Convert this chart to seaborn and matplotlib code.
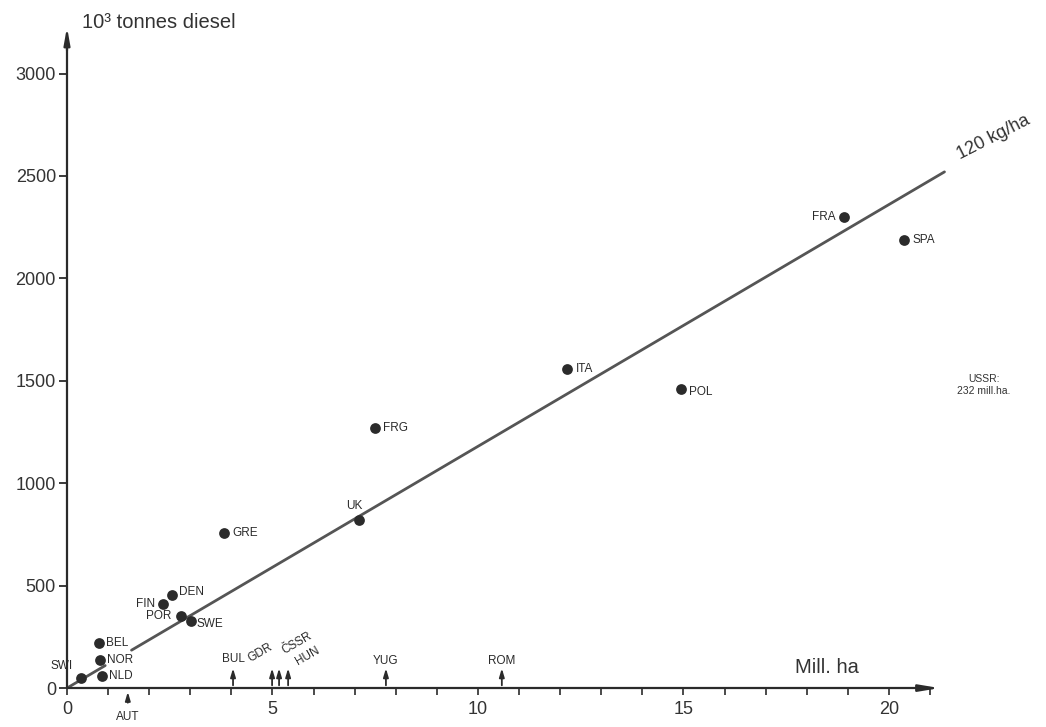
import matplotlib
matplotlib.use("Agg")
import matplotlib.pyplot as plt
import seaborn as sns
import pandas as pd

# ---- data ----
countries = ["FRA", "SPA", "ITA", "POL", "FRG", "UK", "GRE", "DEN", "FIN",
             "POR", "SWE", "BEL", "NOR", "NLD", "SWI"]
area_mha = [18.9, 20.36, 12.17, 14.94, 7.49, 7.10, 3.82, 2.55, 2.34,
            2.77, 3.02, 0.78, 0.80, 0.85, 0.34]
diesel_kt = [2300, 2188, 1558, 1460, 1270, 820, 757, 454, 410,
             352, 327, 220, 137, 59, 49]

# countries with area only (arrows on x axis)
arrow_countries = ["BUL", "GDR", "ČSSR", "HUN", "YUG", "ROM"]
arrow_area = [4.04, 4.99, 5.16, 5.38, 7.76, 10.58]
aut_area = 1.48

# 120 kg/ha reference line (two pieces)
line1_x = [0, 0.93]
line1_y = [0, 110]
line2_x = [1.57, 21.35]
line2_y = [185, 2520]

y_ticks = [0, 500, 1000, 1500, 2000, 2500, 3000]
x_major = [0, 5, 10, 15, 20]
x_minor = list(range(0, 22))

sns.set_style("white")
plt.rcParams["font.family"] = ["Liberation Sans", "DejaVu Sans"]

INK = "#2b2b2b"
fig = plt.figure(figsize=(10.46, 7.27), dpi=100)
ax = fig.add_axes([0, 0, 1, 1])

df = pd.DataFrame({"country": countries, "area": area_mha, "diesel": diesel_kt})

ax.plot(line1_x, line1_y, color="#555555", lw=2.0, solid_capstyle="round")
ax.plot(line2_x, line2_y, color="#555555", lw=2.0, solid_capstyle="round")

sns.scatterplot(data=df, x="area", y="diesel", ax=ax, s=60, color=INK,
                edgecolor=INK, linewidth=0, zorder=5, legend=False)
ax.set_xlabel("")
ax.set_ylabel("")
ax.set_xlim(-1.63, 23.82)
ax.set_ylim(-190, 3359)

# label offsets (points)
offsets = {
    "FRA": (-6, 0, "right"), "SPA": (6, 0, "left"), "ITA": (6, 0, "left"),
    "POL": (6, -2, "left"), "FRG": (6, 0, "left"), "GRE": (6, 0, "left"),
    "DEN": (5, 2, "left"), "FIN": (-6, 0, "right"), "POR": (-7, 0, "right"),
    "SWE": (4, -2, "left"), "BEL": (5, 0, "left"), "NOR": (5, 0, "left"),
    "NLD": (5, 0, "left"), "SWI": (-6, 9, "right"), "UK": (-3, 10, "center"),
}
for c, xv, yv in zip(countries, area_mha, diesel_kt):
    dx, dy, ha = offsets[c]
    ax.annotate(c, (xv, yv), xytext=(dx, dy), textcoords="offset points",
                ha=ha, va="center", fontsize=8.5, color=INK)

# axes (spines drawn as lines with arrows)
for s in ax.spines.values():
    s.set_visible(False)
ax.plot([0, 0], [0, 3150], color=INK, lw=1.6)
ax.plot([0, 21.0], [0, 0], color=INK, lw=1.6)
ax.annotate("", xy=(0, 3240), xytext=(0, 3100),
            arrowprops=dict(arrowstyle="-|>,head_length=1.0,head_width=0.18",
                            color=INK, lw=1.6))
ax.annotate("", xy=(21.3, 0), xytext=(20.7, 0),
            arrowprops=dict(arrowstyle="-|>,head_length=1.2,head_width=0.2",
                            color=INK, lw=1.6))

ax.set_yticks(y_ticks)
ax.set_yticklabels([str(t) for t in y_ticks])
ax.set_xticks(x_major)
ax.set_xticklabels([str(t) for t in x_major])
ax.set_xticks(x_minor, minor=True)
ax.tick_params(axis="y", direction="out", length=6, width=1.3, color=INK,
               labelsize=13, labelcolor="#333333", pad=2, left=True)
ax.tick_params(axis="x", which="both", direction="out", length=5, width=1.2,
               color=INK, labelsize=13, labelcolor="#333333", pad=4, bottom=True)
ax.xaxis.set_ticks_position("bottom")
ax.yaxis.set_ticks_position("left")
ax.spines["left"].set_position(("data", 0))
ax.spines["bottom"].set_position(("data", 0))

# arrows for countries without diesel data
for c, xv in zip(arrow_countries, arrow_area):
    ax.annotate("", xy=(xv, 110), xytext=(xv, 0),
                arrowprops=dict(arrowstyle="-|>,head_length=0.5,head_width=0.15",
                                color=INK, lw=1.3))
ax.text(4.06, 140, "BUL", ha="center", va="center", fontsize=8.5, color=INK)
ax.text(4.70, 172, "GDR", ha="center", va="center", fontsize=8.5, color=INK, rotation=30)
ax.text(5.60, 218, "ČSSR", ha="center", va="center", fontsize=8.5, color=INK, rotation=30)
ax.text(5.85, 158, "HUN", ha="center", va="center", fontsize=8.5, color=INK, rotation=30)
ax.text(7.76, 132, "YUG", ha="center", va="center", fontsize=8.5, color=INK)
ax.text(10.58, 132, "ROM", ha="center", va="center", fontsize=8.5, color=INK)

ax.annotate("", xy=(aut_area, -5), xytext=(aut_area, -85),
            arrowprops=dict(arrowstyle="-|>,head_length=0.5,head_width=0.15",
                            color=INK, lw=1.3))
ax.text(aut_area, -140, "AUT", ha="center", va="center", fontsize=8.5, color=INK)

# titles / annotations
ax.text(0.37, 3250, "10³ tonnes diesel", ha="left", va="center", fontsize=14.5,
        color="#333333")
ax.text(18.5, 100, "Mill. ha", ha="center", va="center", fontsize=14.5,
        color="#333333")
ax.text(22.55, 2690, "120 kg/ha", ha="center", va="center", fontsize=13,
        color="#333333", rotation=27)
ax.text(22.3, 1480, "USSR:\n232 mill.ha.", ha="center", va="center",
        fontsize=7.5, color="#333333", linespacing=1.2)

fig.savefig("out.png", dpi=100, facecolor="white")
